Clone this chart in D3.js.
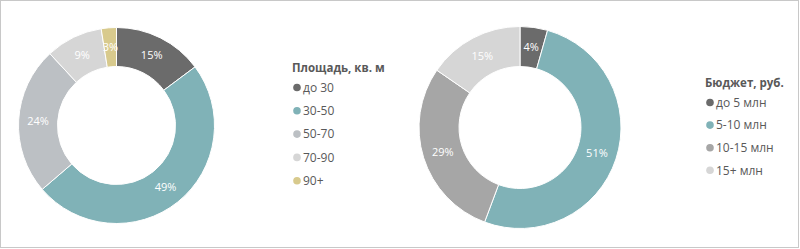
<!DOCTYPE html>
<meta charset="utf-8">
<head>
<script src="https://d3js.org/d3.v7.min.js"></script>
<style>
  body { margin: 0; background: #fff; }
  text { font-family: "Open Sans", "Noto Sans", sans-serif; }
</style>
</head>
<body>
<svg id="chart" width="800" height="249"></svg>
<script>

// area chart data
var areaCats   = ["до 30", "30-50", "50-70", "70-90", "90+"];
var areaVals   = [14.8, 48.9, 24.4, 9.4, 2.5];
var areaColors = ["#6b6b6b", "#80b2b7", "#bcc0c4", "#d6d6d6", "#d8ca8d"];

// budget chart data
var budgetCats   = ["до 5 млн", "5-10 млн", "10-15 млн", "15+ млн"];
var budgetVals   = [4.4, 51.3, 28.9, 15.4];
var budgetColors = ["#6b6b6b", "#80b2b7", "#a6a6a6", "#d6d6d6"];

var svg = d3.select("#chart");

// frame
svg.append("rect")
	.attr("x", 0.5).attr("y", 0.5)
	.attr("width", 798).attr("height", 247)
	.attr("fill", "none")
	.attr("stroke", "#c8c8c8");

function drawDonut(cx, cy, rIn, rOut, cats, vals, colors) {
	var pie = d3.pie().sort(null).value(function(d) { return d; });
	var arc = d3.arc().innerRadius(rIn).outerRadius(rOut);
	var total = d3.sum(vals);

	var g = svg.append("g").attr("transform", "translate(" + cx + "," + cy + ")");
	var arcs = pie(vals);

	g.selectAll("path")
		.data(arcs)
		.enter().append("path")
		.attr("d", arc)
		.attr("fill", function(d, i) { return colors[i]; })
		.attr("stroke", "#fff")
		.attr("stroke-width", 1);

	g.selectAll("text")
		.data(arcs)
		.enter().append("text")
		.attr("transform", function(d) { return "translate(" + arc.centroid(d) + ")"; })
		.attr("text-anchor", "middle")
		.attr("dy", "0.35em")
		.attr("fill", "#fff")
		.style("font-size", "11px")
		.text(function(d) { return Math.round(d.value / total * 100) + "%"; });
}

function drawLegend(x, y, title, cats, colors, step) {
	var g = svg.append("g").attr("transform", "translate(" + x + "," + y + ")");
	g.append("text")
		.attr("x", 0).attr("y", 0)
		.attr("fill", "#595959")
		.style("font-size", "11.5px")
		.style("font-weight", "bold")
		.text(title);

	var item = g.selectAll("g.item")
		.data(cats)
		.enter().append("g")
		.attr("class", "item")
		.attr("transform", function(d, i) { return "translate(0," + (16 + i * step) + ")"; });

	item.append("circle")
		.attr("cx", 5).attr("cy", 0).attr("r", 3.8)
		.attr("fill", function(d, i) { return colors[i]; });

	item.append("text")
		.attr("x", 11).attr("y", 0)
		.attr("dy", "0.35em")
		.attr("fill", "#595959")
		.style("font-size", "12px")
		.text(function(d) { return d; });
}

drawDonut(116.5, 125.5, 59, 98, areaCats, areaVals, areaColors);
drawLegend(292, 71.5, "Площадь, кв. м", areaCats, areaColors, 23.3);

drawDonut(520, 127.5, 61, 101, budgetCats, budgetVals, budgetColors);
drawLegend(705, 86.5, "Бюджет, руб.", budgetCats, budgetColors, 22.6);

</script>
</body>
